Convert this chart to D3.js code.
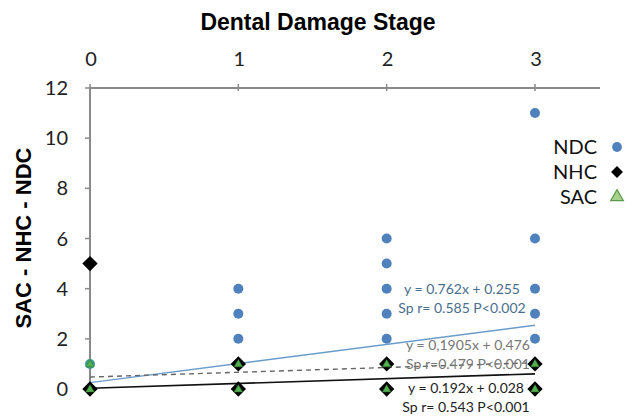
<!DOCTYPE html>
<html>
<head>
<script src="https://d3js.org/d3.v7.min.js"></script>
<style>
  body { margin: 0; background: #fff; }
  text { font-family: Lato, "Open Sans", sans-serif; }
</style>
</head>
<body>
<div id="graph"></div>
<script>
var w = 635, h = 417;

var stages = [0, 1, 2, 3];
var yTicks = [0, 2, 4, 6, 8, 10, 12];

// points as [stage, value]
var ndc = [[0, 1], [1, 4], [1, 3], [1, 2], [1, 1], [2, 6], [2, 5], [2, 4], [2, 3], [2, 2], [2, 1],
           [3, 11], [3, 6], [3, 4], [3, 3], [3, 2], [3, 1]];
var nhc = [[0, 5], [0, 0], [1, 1], [1, 0], [2, 1], [2, 0], [3, 1], [3, 0]];
var sac = [[0, 1], [0, 0], [1, 1], [1, 0], [2, 1], [2, 0], [3, 1], [3, 0]];

// regression lines: slope, intercept
var fits = [
  { name: "NDC", slope: 0.762, icpt: 0.255 },
  { name: "SAC", slope: 0.1905, icpt: 0.476 },
  { name: "NHC", slope: 0.192, icpt: 0.028 }
];
var fitLabels = [
  ["y = 0.762x + 0.255", "Sp r= 0.585 P<0.002"],
  ["y = 0,1905x + 0.476", "Sp r=0.479 P<0.001"],
  ["y = 0.192x + 0.028", "Sp r= 0.543 P<0.001"]
];

var svg = d3.select("#graph").append("svg")
  .attr("width", w).attr("height", h);

var x = d3.scaleLinear().domain([0, 3]).range([90, 535]);
var y = d3.scaleLinear().domain([0, 12]).range([389, 88]);

// title
svg.append("text")
  .attr("x", 318).attr("y", 30)
  .attr("text-anchor", "middle")
  .style("font-family", "Arial, 'Liberation Sans', sans-serif")
  .style("font-weight", "bold")
  .style("font-size", "23px")
  .text("Dental Damage Stage");

// y axis label
svg.append("text")
  .attr("transform", "translate(31,238) rotate(-90)")
  .attr("text-anchor", "middle")
  .style("font-family", "Arial, 'Liberation Sans', sans-serif")
  .style("font-weight", "bold")
  .style("font-size", "22px")
  .text("SAC - NHC - NDC");

// axes
var gx = svg.append("g").attr("transform", "translate(0," + y(12) + ")");
gx.append("line").attr("x1", x(0)).attr("x2", 600)
  .attr("stroke", "#8a8a8a").attr("stroke-width", 2);
gx.selectAll(".tk").data(stages).enter().append("line")
  .attr("x1", function(d) { return x(d); }).attr("x2", function(d) { return x(d); })
  .attr("y1", -4).attr("y2", 3)
  .attr("stroke", "#8a8a8a").attr("stroke-width", 1.5);
gx.selectAll(".lb").data(stages).enter().append("text")
  .attr("x", function(d) { return x(d) + 1; })
  .attr("y", -22)
  .attr("text-anchor", "middle")
  .style("font-size", "20px")
  .attr("fill", "#222")
  .text(function(d) { return d; });

var gy = svg.append("g").attr("transform", "translate(" + x(0) + ",0)");
gy.append("line").attr("y1", y(12)).attr("y2", y(0))
  .attr("stroke", "#8a8a8a").attr("stroke-width", 2);
gy.selectAll(".tk").data(yTicks).enter().append("line")
  .attr("x1", -5).attr("x2", 0)
  .attr("y1", function(d) { return y(d); }).attr("y2", function(d) { return y(d); })
  .attr("stroke", "#8a8a8a").attr("stroke-width", 1.5);
gy.selectAll(".lb").data(yTicks).enter().append("text")
  .attr("x", -22)
  .attr("y", function(d) { return y(d); })
  .attr("dy", "0.35em")
  .attr("text-anchor", "end")
  .style("font-size", "20px")
  .attr("fill", "#222")
  .text(function(d) { return d; });

// fit lines
var lineStyle = {
  NDC: { stroke: "#6a9ccb", dash: null, width: 1.4 },
  SAC: { stroke: "#666", dash: "5,4", width: 1.4 },
  NHC: { stroke: "#111", dash: null, width: 1.6 }
};
svg.selectAll(".fit").data(fits).enter().append("line")
  .attr("x1", x(0)).attr("x2", x(3))
  .attr("y1", function(d) { return y(d.icpt); })
  .attr("y2", function(d) { return y(d.slope * 3 + d.icpt); })
  .attr("stroke", function(d) { return lineStyle[d.name].stroke; })
  .attr("stroke-width", function(d) { return lineStyle[d.name].width; })
  .attr("stroke-dasharray", function(d) { return lineStyle[d.name].dash; });

// points
svg.selectAll(".ndc").data(ndc).enter().append("circle")
  .attr("cx", function(d) { return x(d[0]); })
  .attr("cy", function(d) { return y(d[1]); })
  .attr("r", 5)
  .attr("fill", function(d) { return d[0] === 0 ? "#3d9c8c" : "#4f81bd"; });

var diamond = d3.symbol().type(d3.symbolDiamond2).size(150);
svg.selectAll(".nhc").data(nhc).enter().append("path")
  .attr("d", diamond)
  .attr("transform", function(d) { return "translate(" + x(d[0]) + "," + y(d[1]) + ")"; })
  .attr("fill", "#000");

var tri = d3.symbol().type(d3.symbolTriangle).size(30);
svg.selectAll(".sac").data(sac).enter().append("path")
  .attr("d", tri)
  .attr("transform", function(d) { return "translate(" + x(d[0]) + "," + (y(d[1]) + 0.5) + ")"; })
  .attr("fill", "#55b050")
  .attr("stroke", "#2e7d32").attr("stroke-width", 0.6);

// fit labels
var labelPos = [[462, 294, "#4a6e90"], [468, 350, "#777"], [466, 393, "#222"]];
fitLabels.forEach(function(pair, i) {
  pair.forEach(function(t, j) {
    svg.append("text")
      .attr("x", labelPos[i][0])
      .attr("y", labelPos[i][1] + j * 19)
      .attr("text-anchor", "middle")
      .style("font-size", "14px")
      .attr("fill", labelPos[i][2])
      .text(t);
  });
});

// legend
var legend = [
  { name: "NDC", sym: "circle" },
  { name: "NHC", sym: "diamond" },
  { name: "SAC", sym: "triangle" }
];
var lg = svg.selectAll(".lg").data(legend).enter().append("g")
  .attr("transform", function(d, i) { return "translate(0," + (147 + i * 25) + ")"; });
lg.append("text")
  .attr("x", 597).attr("dy", "0.35em")
  .attr("text-anchor", "end")
  .style("font-size", "20px")
  .attr("fill", "#111")
  .text(function(d) { return d.name; });
lg.append("path")
  .attr("transform", "translate(617,0)")
  .attr("d", function(d) {
    if (d.sym === "circle") return d3.symbol().type(d3.symbolCircle).size(75)();
    if (d.sym === "diamond") return d3.symbol().type(d3.symbolDiamond2).size(90)();
    return d3.symbol().type(d3.symbolTriangle).size(70)();
  })
  .attr("fill", function(d) { return d.sym === "circle" ? "#4f81bd" : d.sym === "diamond" ? "#000" : "#a8d08d"; })
  .attr("stroke", function(d) { return d.sym === "triangle" ? "#5a9a4a" : "none"; })
  .attr("stroke-width", 1.2);
</script>
</body>
</html>
